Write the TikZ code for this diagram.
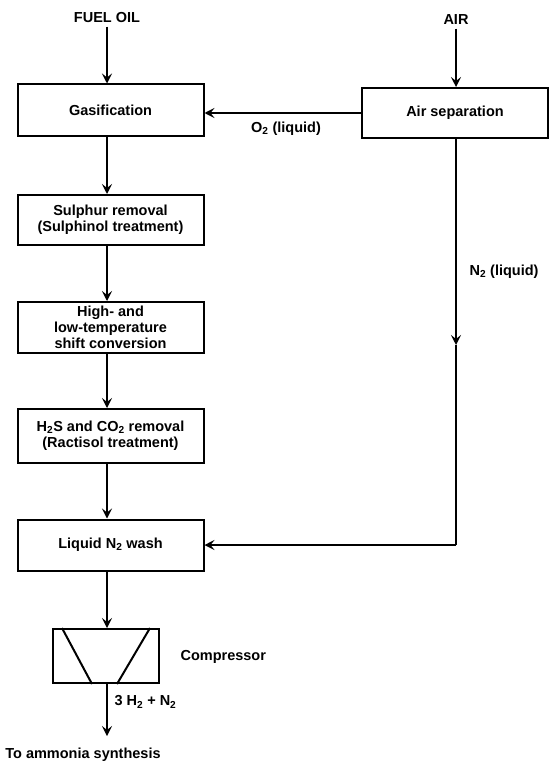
\documentclass[tikz,border=0pt]{standalone}
\usepackage{fontspec}
\setmainfont{Liberation Sans}
\usetikzlibrary{arrows.meta,calc}
\begin{document}
\begin{tikzpicture}[x=1pt,y=-1pt,
  every node/.style={font=\fontsize{14.5}{16}\selectfont\bfseries},
  proc/.style={draw,line width=2pt,minimum width=186pt,minimum height=51pt,
    align=center,inner sep=2pt},
  flow/.style={line width=1.5pt,-{Stealth[length=10pt,width=10pt,inset=4pt]}},
  plain/.style={line width=1.5pt}]
  \useasboundingbox (0,0) rectangle (550,765);

  % inputs
  \node (fuel) at (107,18) {FUEL OIL};
  \node (air) at (456,20) {AIR};

  % main process column
  \node[proc] (gas) at (110.5,110) {Gasification};
  \node[proc,minimum height=50pt] (sul) at (110.5,220) {Sulphur removal\\(Sulphinol treatment)};
  \node[proc] (shift) at (110.5,327.5) {High- and\\low-temperature\\shift conversion};
  \node[proc,minimum height=54pt] (h2s) at (110.5,436) {H\textsubscript{2}S and CO\textsubscript{2} removal\\(Ractisol treatment)};
  \node[proc] (wash) at (110.5,545) {Liquid N\textsubscript{2} wash};

  % air separation unit
  \node[proc,minimum width=186pt,minimum height=50pt] (asep) at (455,113) {Air separation};

  % compressor symbol
  \node[draw,line width=2pt,minimum width=106pt,minimum height=54pt] (comp) at (106,656) {};
  \draw[line width=2pt] ($(comp.north west)+(10,0)$) -- ($(comp.south)+(-14,0)$);
  \draw[line width=2pt] ($(comp.north east)+(-10,0)$) -- ($(comp.south)+(11,0)$);
  \node[anchor=west] (complbl) at (177,657) {Compressor};

  % main flow
  \draw[flow] (fuel.south) -- (gas.north -| fuel);
  \draw[flow] (gas.south -| fuel) -- (sul.north -| fuel);
  \draw[flow] (sul.south -| fuel) -- (shift.north -| fuel);
  \draw[flow] (shift.south -| fuel) -- (h2s.north -| fuel);
  \draw[flow] (h2s.south -| fuel) -- (wash.north -| fuel);
  \draw[flow] (wash.south -| fuel) -- (comp.north -| fuel);
  \coordinate (out) at (107,736);
  \draw[flow] (comp.south -| fuel) -- (out);
  \node (synth) at (83,755) {To ammonia synthesis};
  \node[anchor=west] (prod) at (111,702) {3 H\textsubscript{2} + N\textsubscript{2}};

  % air side
  \draw[flow] (air.south) -- (asep.north -| air);
  \draw[flow] (asep.west) -- (asep.west -| gas.east);
  \node (o2) at (286,129) {O\textsubscript{2} (liquid)};

  \coordinate (mid) at (456,345);
  \coordinate (corner) at (456,545);
  \draw[flow] (asep.south -| air) -- (mid);
  \draw[plain] (mid) -- (corner);
  \draw[flow] (corner) -- (wash.east);
  \node[anchor=west] (n2) at (466,272) {N\textsubscript{2} (liquid)};
\end{tikzpicture}
\end{document}
